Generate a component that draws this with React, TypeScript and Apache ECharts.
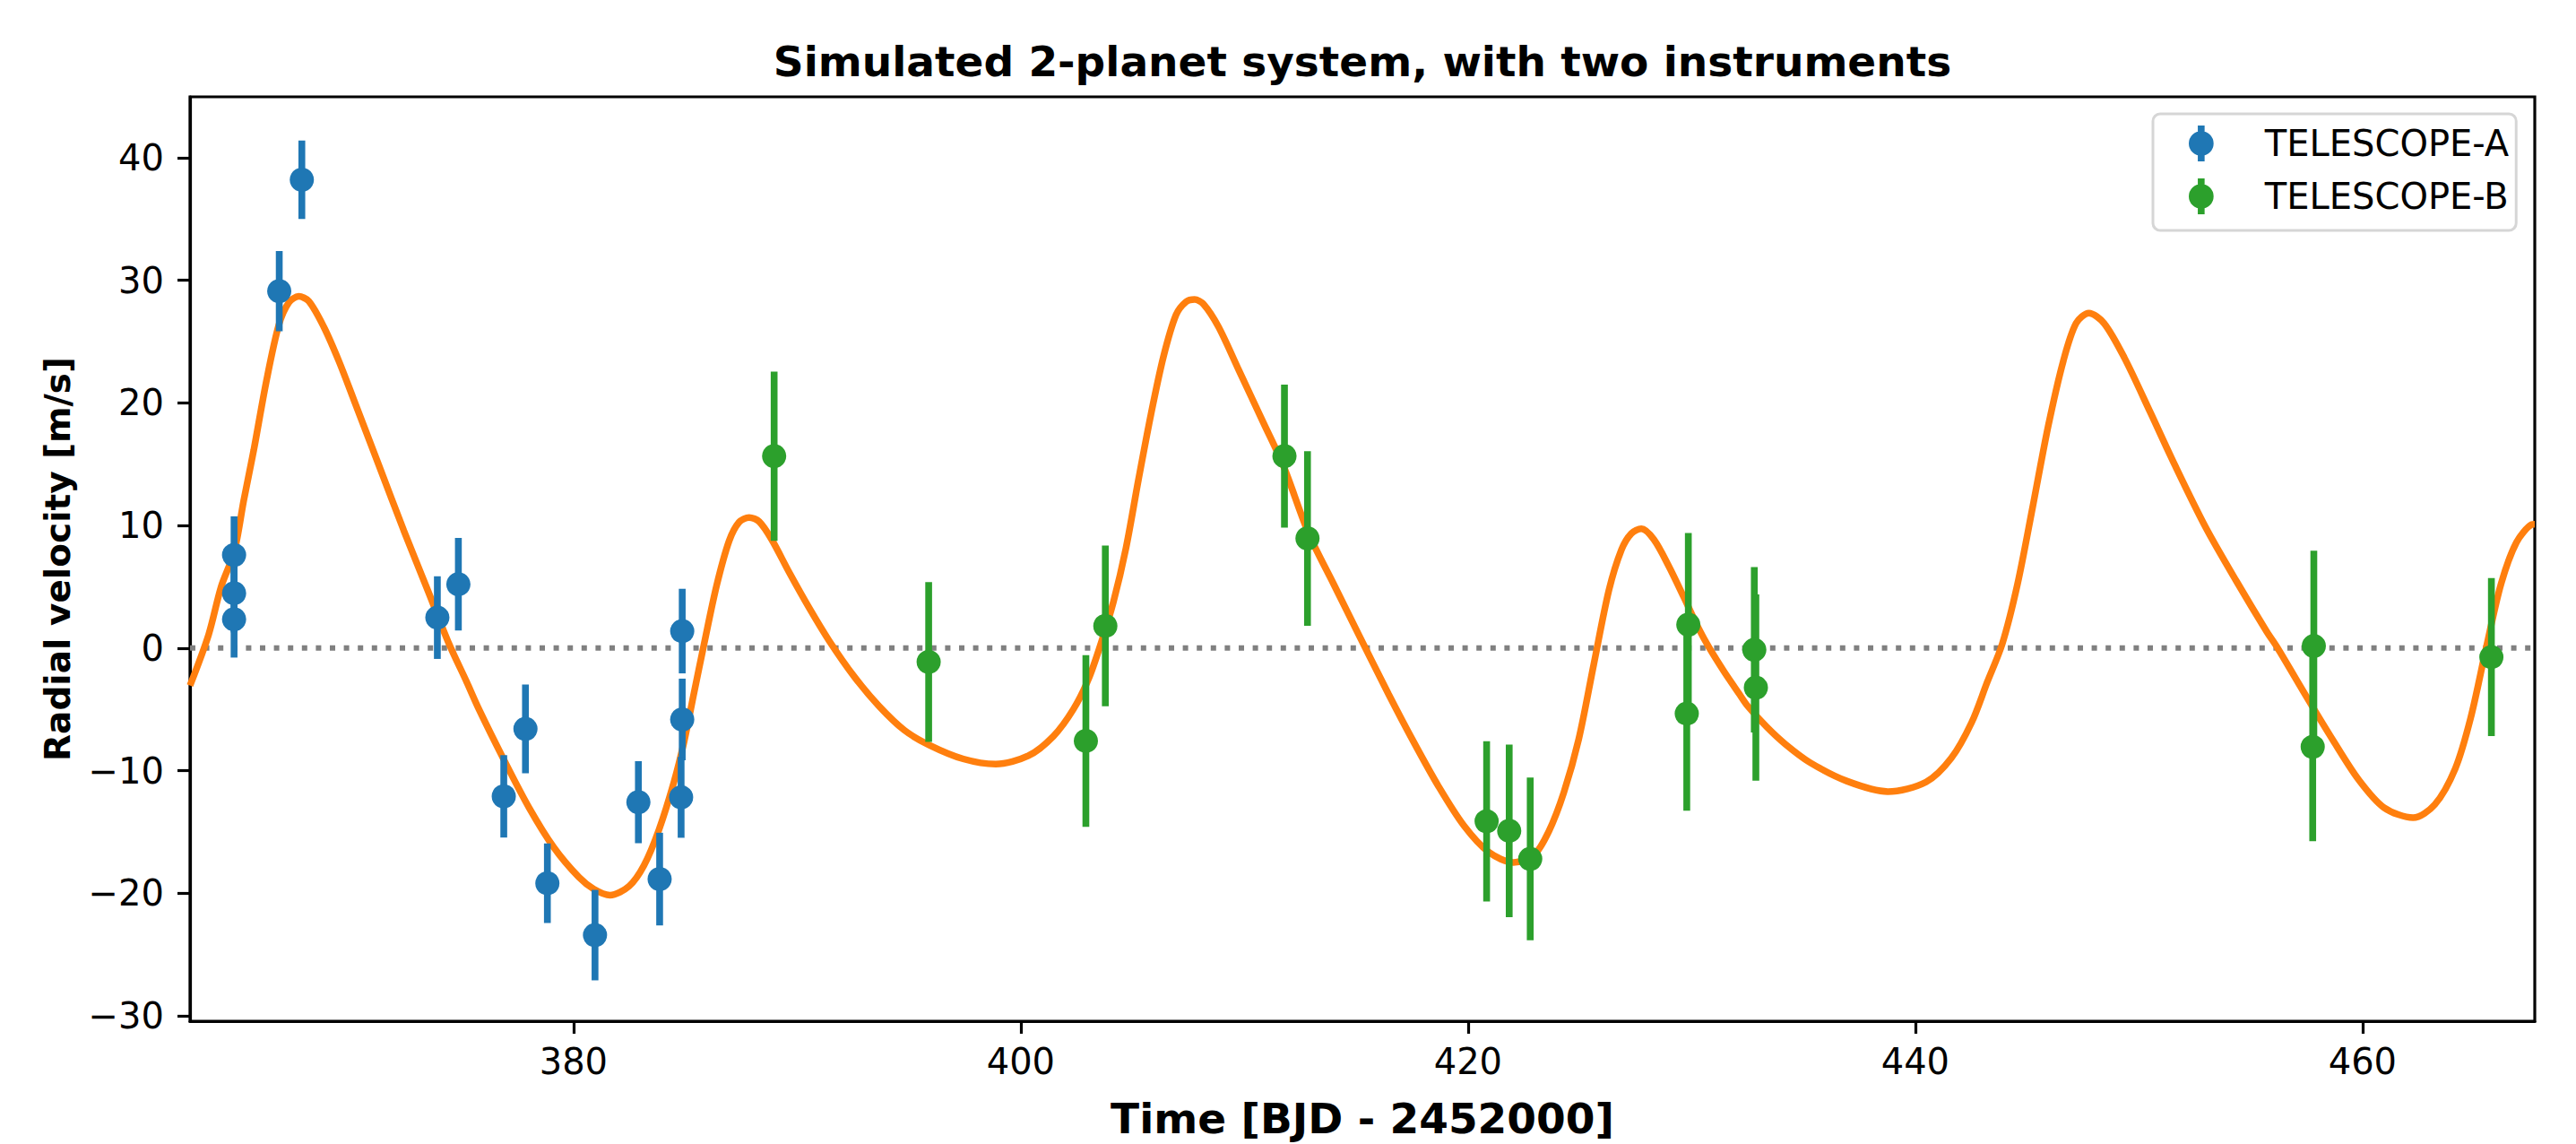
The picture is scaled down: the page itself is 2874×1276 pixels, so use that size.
import React, { useEffect, useRef } from 'react';
import * as echarts from 'echarts';

const TITLE = 'Simulated 2-planet system, with two instruments';
const X_NAME = 'Time [BJD - 2452000]';
const Y_NAME = 'Radial velocity [m/s]';
const SERIES_A = 'TELESCOPE-A';
const SERIES_B = 'TELESCOPE-B';

const X_MIN = 362.85;
const X_MAX = 467.7;
const Y_MIN = -30.44;
const Y_MAX = 44.96;
const xTicks = [380, 400, 420, 440, 460];
const yTicks = [-30, -20, -10, 0, 10, 20, 30, 40];
const zeroLevel = 0;

const aTime = [364.82, 364.82, 364.82, 366.84, 367.85, 373.91, 374.85, 376.88, 377.85, 378.83, 380.96, 382.9, 383.85, 384.86, 384.86, 384.81];
const aRv = [7.58, 4.47, 2.34, 29.11, 38.2, 2.48, 5.2, -12.1, -6.6, -19.19, -23.42, -12.58, -18.85, 1.38, -5.83, -12.18];
const aErr = [3.16, 3.2, 3.12, 3.27, 3.2, 3.37, 3.77, 3.36, 3.62, 3.25, 3.69, 3.35, 3.78, 3.45, 3.33, 3.3];

const bTime = [388.97, 395.88, 402.91, 403.78, 411.79, 412.82, 420.83, 421.84, 422.78, 429.85, 429.78, 432.8, 432.87, 457.82, 457.77, 465.76];
const bRv = [15.65, -1.14, -7.58, 1.8, 15.65, 8.94, -14.14, -14.91, -17.2, 1.9, -5.35, -0.15, -3.23, 0.16, -8.07, -0.74];
const bErr = [6.9, 6.52, 7.0, 6.56, 5.83, 7.12, 6.53, 7.04, 6.64, 7.48, 7.93, 6.75, 7.6, 7.77, 7.68, 6.45];

const modelTime = [
  362.85, 363.68, 364.24, 364.83, 365.25, 365.7, 366.26, 366.82, 367.27, 367.71, 368.16, 368.83, 369.5, 370.17,
  371.29, 372.41, 373.53, 374.43, 375.21, 375.77, 376.89, 378.01, 379.12, 380.24, 380.91, 381.63, 382.48, 383.15,
  383.82, 384.49, 384.94, 385.39, 385.84, 386.4, 386.96, 387.4, 387.85, 388.3, 388.86, 389.64, 390.54, 391.43,
  392.55, 393.67, 394.79, 395.91, 397.43, 398.88, 400.34, 401.46, 402.35, 403.02, 403.58, 404.14, 404.7, 405.26,
  405.82, 406.38, 406.94, 407.39, 407.77, 408.17, 408.84, 409.74, 410.86, 411.75, 412.87, 413.99, 415.11, 416.45,
  417.57, 418.69, 419.81, 420.93, 422.04, 422.94, 423.61, 424.28, 424.95, 425.62, 426.3, 426.86, 427.3, 427.75,
  428.31, 428.98, 429.65, 430.32, 430.77, 431.44, 432.11, 432.51, 433.36, 434.19, 435.28, 436.93, 438.77, 440.48,
  441.61, 442.52, 443.21, 443.89, 444.57, 445.25, 445.94, 446.62, 447.19, 447.76, 448.44, 449.35, 450.49, 451.63,
  452.99, 454.36, 455.72, 456.18, 457.54, 458.68, 459.82, 460.96, 462.26, 463.23, 464.14, 464.83, 465.51, 466.19,
  466.88, 467.56, 467.7,
];
const modelRv = [
  -3.06, 1.08, 4.99, 7.88, 12.01, 16.14, 21.73, 26.35, 28.19, 28.68, 28.29, 26.2, 23.43, 20.27,
  14.93, 9.58, 4.48, 0.35, -2.72, -5.0, -9.13, -13.02, -16.27, -18.7, -19.67, -20.16, -19.43, -17.73,
  -14.82, -10.93, -7.67, -3.64, 0.35, 5.11, 8.75, 10.26, 10.65, 10.31, 8.85, 6.18, 3.26, 0.59,
  -2.33, -4.76, -6.7, -7.92, -9.05, -9.47, -8.79, -7.19, -5.0, -2.57, 0.35, 3.75, 8.12, 13.71,
  19.06, 23.77, 27.17, 28.24, 28.43, 28.05, 26.2, 22.7, 18.33, 14.83, 9.34, 5.21, 1.09, -3.78,
  -7.67, -11.32, -14.48, -16.66, -17.49, -16.9, -14.96, -11.8, -7.43, -1.35, 4.72, 8.02, 9.34, 9.73,
  8.85, 6.66, 4.14, 1.56, 0.06, -1.9, -3.7, -4.75, -6.45, -7.85, -9.33, -10.85, -11.71, -10.93,
  -8.98, -6.07, -2.81, 0.35, 5.21, 11.52, 18.08, 23.43, 26.49, 27.32, 26.49, 23.67, 19.3, 14.83,
  9.82, 5.45, 1.32, 0.06, -4.12, -7.53, -10.73, -13.02, -13.84, -12.77, -9.86, -5.73, -0.14, 5.21,
  8.61, 10.07, 10.1,
];

const BLUE = '#1f77b4';
const GREEN = '#2ca02c';
const ORANGE = '#ff7f0e';
const FONT = 'DejaVu Sans';
const LEGEND_ICON =
  'path://M9.8,0H17.2V39H9.8Z M0,19.5A13.5,13.5,0,1,1,27,19.5A13.5,13.5,0,1,1,0,19.5Z';

const fmtTick = (v: number) => (v < 0 ? '\u2212' + Math.abs(v) : String(v));

function errSeries(name: string, t: number[], v: number[], e: number[], color: string) {
  return {
    type: 'custom',
    name,
    z: 3,
    silent: true,
    data: t.map((x, i) => [x, v[i], e[i]]),
    encode: { x: 0, y: 1 },
    renderItem: (_params: any, api: any) => {
      const x = api.value(0);
      const y = api.value(1);
      const err = api.value(2);
      const top = api.coord([x, y + err]);
      const bot = api.coord([x, y - err]);
      return {
        type: 'rect',
        shape: { x: top[0] - 3.8, y: top[1], width: 7.6, height: bot[1] - top[1] },
        style: { fill: color },
      };
    },
  };
}

function scatterSeries(name: string, t: number[], v: number[], color: string) {
  return {
    type: 'scatter',
    name,
    z: 4,
    symbol: 'circle',
    symbolSize: 27,
    itemStyle: { color, opacity: 1 },
    data: t.map((x, i) => [x, v[i]]),
  };
}

export default function App() {
  const ref = useRef<HTMLDivElement>(null);
  useEffect(() => {
    const chart = echarts.init(ref.current!, null, { renderer: 'svg' });
    const axisCommon = {
      type: 'value',
      splitLine: { show: false },
      axisLine: { show: true, onZero: false, lineStyle: { color: '#000', width: 3.2 } },
    };
    chart.setOption({
      animation: false,
      backgroundColor: '#ffffff',
      textStyle: { fontFamily: FONT },
      title: {
        text: TITLE,
        left: 1520,
        top: 45,
        textAlign: 'center',
        padding: 0,
        textStyle: { fontSize: 47, fontWeight: 'bold', fontFamily: FONT, color: '#000', lineHeight: 47 },
      },
      grid: {
        left: 212,
        right: 46,
        top: 108,
        bottom: 129,
        show: true,
        borderColor: '#000',
        borderWidth: 3.2,
        backgroundColor: 'transparent',
      },
      legend: {
        orient: 'vertical',
        left: 2402,
        top: 127,
        padding: [13, 8, 18, 40],
        itemWidth: 30,
        itemHeight: 40,
        itemGap: 19,
        backgroundColor: 'rgba(255,255,255,0.8)',
        borderColor: '#d6d6d6',
        borderWidth: 3,
        borderRadius: 8,
        icon: LEGEND_ICON,
        data: [SERIES_A, SERIES_B],
        textStyle: { fontSize: 40, color: '#000', fontFamily: FONT, lineHeight: 40, padding: [0, 0, 0, 51] },
      },
      xAxis: {
        ...axisCommon,
        min: X_MIN,
        max: X_MAX,
        axisTick: { show: true, length: 14, lineStyle: { color: '#000', width: 3.2 }, customValues: xTicks },
        axisLabel: {
          customValues: xTicks,
          fontSize: 40,
          lineHeight: 40,
          color: '#000',
          fontFamily: FONT,
          margin: 25,
          formatter: fmtTick,
        },
        name: X_NAME,
        nameLocation: 'middle',
        nameGap: 85,
        nameTextStyle: { fontSize: 47, fontWeight: 'bold', color: '#000', fontFamily: FONT, lineHeight: 47 },
      },
      yAxis: {
        ...axisCommon,
        min: Y_MIN,
        max: Y_MAX,
        axisTick: { show: true, length: 14, lineStyle: { color: '#000', width: 3.2 }, customValues: yTicks },
        axisLabel: {
          customValues: yTicks,
          fontSize: 40,
          lineHeight: 40,
          color: '#000',
          fontFamily: FONT,
          margin: 29,
          formatter: fmtTick,
        },
        name: Y_NAME,
        nameLocation: 'middle',
        nameGap: 128,
        nameTextStyle: { fontSize: 39, fontWeight: 'bold', color: '#000', fontFamily: FONT, lineHeight: 39 },
      },
      series: [
        scatterSeries(SERIES_A, aTime, aRv, BLUE),
        scatterSeries(SERIES_B, bTime, bRv, GREEN),
        {
          type: 'line',
          name: 'zero',
          z: 1,
          silent: true,
          showSymbol: false,
          symbol: 'none',
          data: [
            [X_MIN, zeroLevel],
            [X_MAX, zeroLevel],
          ],
          lineStyle: { color: '#808080', width: 6, type: [6, 9.6], cap: 'butt' },
        },
        {
          type: 'line',
          name: 'model',
          z: 2,
          silent: true,
          showSymbol: false,
          symbol: 'none',
          smooth: 0.3,
          data: modelTime.map((t, i) => [t, modelRv[i]]),
          lineStyle: { color: ORANGE, width: 7.5 },
        },
        errSeries('A-errors', aTime, aRv, aErr, BLUE),
        errSeries('B-errors', bTime, bRv, bErr, GREEN),
      ],
    });
    return () => chart.dispose();
  }, []);
  return (
    <div
      ref={ref}
      style={{ position: 'absolute', left: 0, top: 0, width: 2874, height: 1276, background: '#fff' }}
    />
  );
}
